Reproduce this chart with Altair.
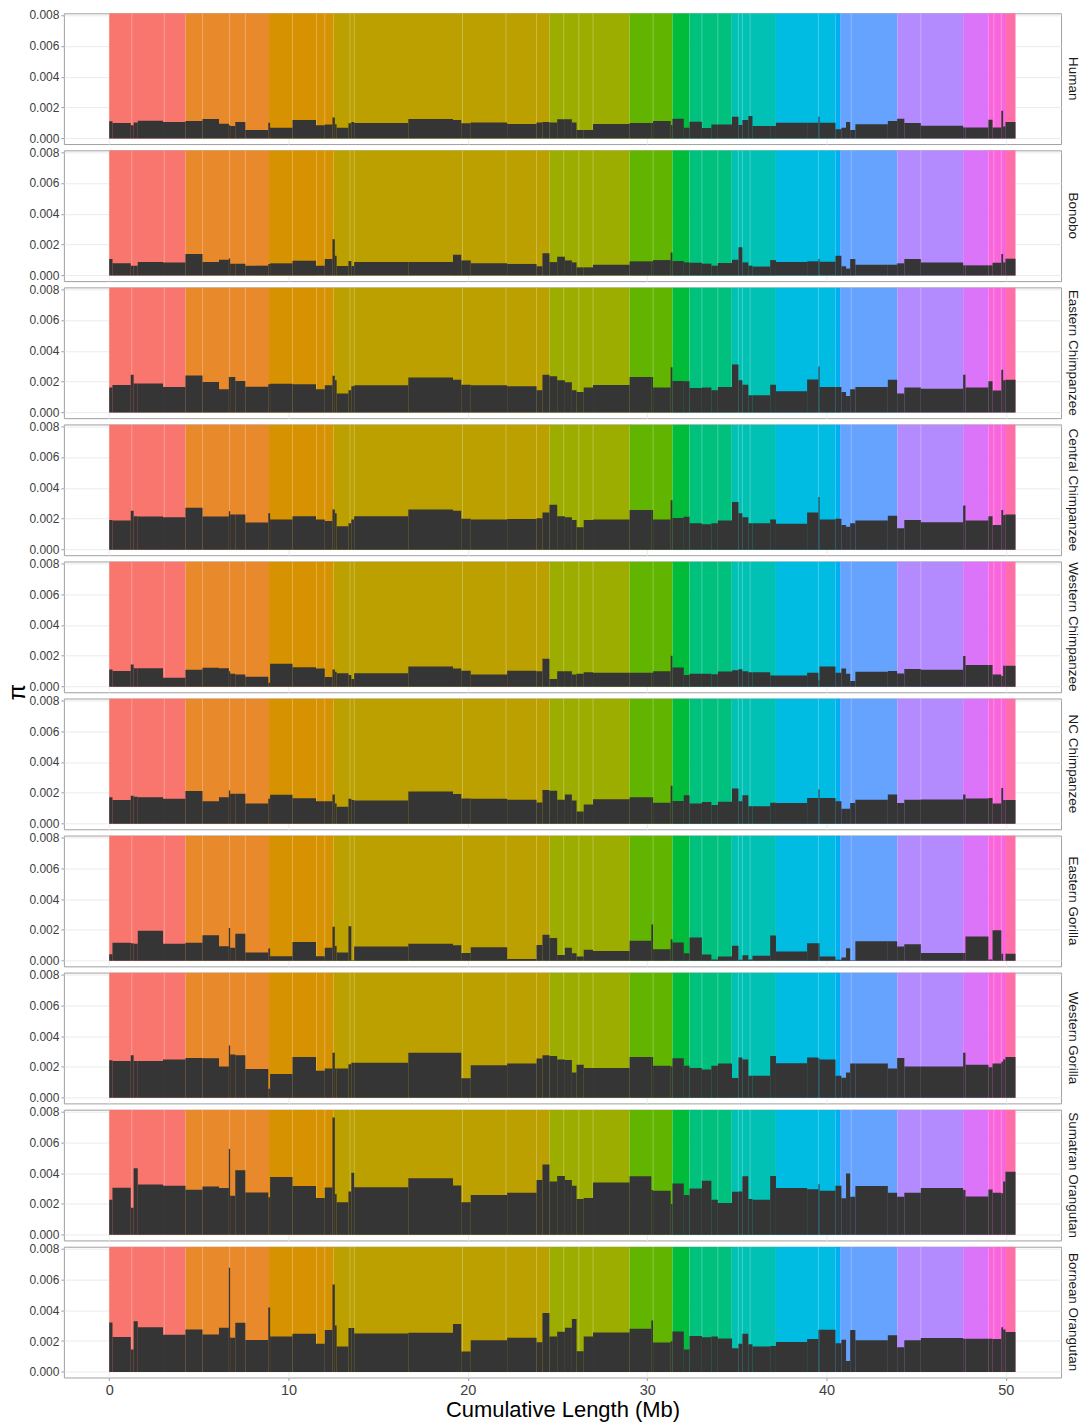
import altair as alt
import pandas as pd

# Panel order (top to bottom)
species = [
    "Human", "Bonobo", "Eastern Chimpanzee", "Central Chimpanzee",
    "Western Chimpanzee", "NC Chimpanzee", "Eastern Gorilla",
    "Western Gorilla", "Sumatran Orangutan", "Bornean Orangutan",
]

# Window boundaries along the cumulative coordinate (Mb)
edges = [
    0.0, 0.18, 1.20, 1.36, 1.59, 3.00, 4.25, 5.20, 6.12, 6.67,
    6.74, 7.03, 7.59, 8.87, 8.97, 10.22, 11.53, 12.02, 12.45, 12.58,
    12.68, 13.34, 13.50, 13.66, 16.68, 19.17, 19.63, 20.16, 22.19, 23.83,
    24.16, 24.55, 24.98, 25.41, 25.80, 26.06, 26.46, 26.98, 29.02, 30.23,
    30.33, 31.31, 31.41, 32.04, 32.36, 33.05, 33.58, 33.94, 34.73, 35.09,
    35.31, 35.64, 35.87, 36.86, 37.18, 38.92, 39.55, 39.61, 40.50, 40.83,
    41.09, 41.32, 41.61, 43.42, 43.94, 44.34, 45.26, 47.62, 47.75, 49.03,
    49.26, 49.75, 49.85, 49.98, 50.54,
]

# Nucleotide diversity per window, in units of 1e-3
pi_human = [
    1.11, 1.00, 0.85, 1.04, 1.15, 1.07, 1.13, 1.26, 0.96, 0.85,
    0.81, 1.07, 0.55, 1.02, 0.70, 1.19, 0.85, 0.90, 1.36, 0.92,
    0.70, 0.98, 1.07, 1.00, 1.26, 1.20, 0.98, 1.04, 0.94, 1.04,
    1.07, 1.04, 1.24, 1.24, 1.04, 0.55, 0.55, 0.94, 1.00, 1.00,
    1.13, 0.87, 1.28, 0.70, 1.09, 0.68, 0.90, 0.90, 1.41, 0.87,
    1.19, 1.45, 0.81, 0.81, 1.02, 1.02, 1.41, 1.02, 0.60, 0.70,
    1.07, 0.55, 0.92, 1.13, 1.28, 1.00, 0.83, 0.72, 0.72, 1.22,
    0.72, 1.79, 0.77, 1.07,
]
pi_bonobo = [
    1.07, 0.79, 0.64, 0.64, 0.87, 0.85, 1.39, 0.87, 1.02, 1.11,
    0.77, 0.77, 0.64, 0.75, 0.79, 0.96, 0.64, 1.07, 2.35, 1.28,
    0.62, 0.94, 0.62, 0.87, 0.87, 1.34, 0.98, 0.79, 0.75, 0.60,
    1.45, 0.87, 1.22, 0.98, 0.85, 0.53, 0.53, 0.70, 0.92, 0.92,
    1.00, 1.49, 0.94, 0.85, 0.83, 0.77, 0.64, 0.81, 1.02, 1.83,
    0.85, 0.64, 0.58, 1.00, 0.87, 0.92, 1.07, 0.90, 1.28, 0.60,
    0.45, 1.07, 0.70, 0.70, 0.79, 1.07, 0.85, 0.66, 0.66, 0.66,
    0.83, 1.39, 0.85, 1.09,
]
pi_e_chimp = [
    1.62, 1.79, 2.45, 1.88, 1.88, 1.66, 2.41, 1.98, 1.51, 2.30,
    2.30, 2.05, 1.68, 1.83, 1.86, 1.83, 1.51, 1.77, 2.39, 2.09,
    1.24, 1.45, 1.71, 1.77, 2.28, 2.13, 1.81, 1.77, 1.71, 1.45,
    2.45, 2.35, 2.09, 1.96, 1.45, 1.34, 1.62, 1.79, 2.30, 2.30,
    1.62, 2.94, 2.05, 2.03, 1.60, 1.62, 1.45, 1.66, 3.11, 2.09,
    1.81, 1.13, 1.13, 1.81, 1.39, 2.15, 2.98, 1.66, 1.66, 1.34,
    1.07, 1.51, 1.66, 2.13, 1.24, 1.62, 1.54, 2.45, 1.62, 2.03,
    1.43, 2.77, 2.09, 2.13,
]
pi_c_chimp = [
    1.92, 1.88, 2.52, 2.17, 2.15, 2.09, 2.71, 2.15, 2.15, 2.49,
    2.28, 2.28, 1.75, 2.35, 1.96, 2.17, 1.96, 1.86, 2.60, 2.35,
    1.51, 1.71, 1.96, 2.17, 2.60, 2.52, 2.00, 1.96, 1.98, 2.03,
    2.41, 2.90, 2.17, 2.09, 1.92, 1.45, 1.92, 1.96, 2.56, 2.56,
    1.96, 3.20, 2.05, 2.13, 1.71, 1.64, 1.71, 1.88, 3.09, 2.35,
    2.09, 1.71, 1.71, 1.96, 1.68, 2.41, 3.41, 1.96, 2.00, 1.60,
    1.49, 1.71, 1.88, 2.20, 1.39, 1.92, 1.77, 2.86, 1.88, 2.17,
    1.60, 2.56, 2.24, 2.28,
]
pi_w_chimp = [
    1.11, 1.02, 1.43, 1.19, 1.19, 0.58, 1.09, 1.22, 1.19, 1.00,
    0.83, 0.79, 0.64, 0.26, 1.49, 1.26, 1.17, 0.62, 1.11, 0.96,
    0.87, 0.75, 0.49, 0.87, 1.30, 1.17, 1.04, 0.79, 1.04, 1.00,
    1.81, 0.49, 1.00, 1.00, 0.79, 0.83, 0.94, 0.90, 0.90, 0.90,
    1.00, 2.00, 1.24, 0.75, 0.83, 0.83, 0.81, 0.98, 1.07, 1.13,
    1.00, 0.94, 0.94, 0.72, 0.72, 0.90, 0.41, 1.30, 0.90, 1.17,
    0.83, 0.36, 0.96, 1.02, 0.85, 1.15, 1.09, 1.98, 1.41, 1.41,
    0.79, 0.70, 1.36, 1.36,
]
pi_nc_chimp = [
    1.72, 1.53, 1.82, 1.74, 1.72, 1.61, 2.12, 1.46, 1.72, 2.16,
    1.95, 1.95, 1.31, 1.61, 1.87, 1.65, 1.46, 1.46, 1.89, 1.31,
    1.10, 1.61, 1.53, 1.50, 2.08, 1.93, 1.63, 1.61, 1.55, 1.38,
    2.18, 2.14, 1.55, 1.89, 1.50, 0.80, 1.25, 1.59, 1.72, 1.72,
    1.36, 2.46, 1.47, 1.84, 1.31, 1.40, 1.21, 1.43, 2.29, 1.46,
    1.84, 1.14, 1.14, 1.36, 1.34, 1.67, 2.21, 1.67, 1.46, 0.97,
    0.97, 1.34, 1.55, 1.89, 1.34, 1.55, 1.57, 1.89, 1.63, 1.67,
    1.31, 2.31, 1.53, 1.53,
]
pi_e_gorilla = [
    0.43, 1.17, 1.13, 1.11, 1.94, 1.11, 1.17, 1.66, 0.94, 2.13,
    0.85, 1.75, 0.53, 0.79, 0.30, 1.21, 0.30, 0.85, 2.20, 0.96,
    0.53, 2.24, 0.04, 0.92, 1.11, 1.00, 0.51, 0.87, 0.11, 1.02,
    1.68, 1.47, 0.38, 0.85, 0.49, 0.28, 0.72, 0.64, 1.30, 2.35,
    0.75, 1.39, 1.19, 0.49, 1.51, 0.41, 0.09, 0.28, 0.98, 0.06,
    0.36, 0.09, 0.32, 1.64, 0.60, 1.13, 1.13, 0.28, 0.06, 0.21,
    0.81, 0.04, 1.26, 1.26, 0.92, 1.07, 0.51, 0.51, 1.58, 0.09,
    1.98, 0.45, 0.02, 0.45,
]
pi_w_gorilla = [
    2.43, 2.39, 2.75, 2.39, 2.39, 2.49, 2.58, 2.56, 2.03, 3.39,
    2.81, 2.75, 1.86, 0.58, 1.54, 2.64, 1.75, 1.90, 2.92, 1.90,
    1.90, 2.17, 2.28, 2.28, 2.92, 2.92, 1.26, 2.11, 2.22, 2.54,
    2.75, 2.71, 2.49, 2.45, 1.64, 2.15, 1.94, 1.94, 2.64, 2.64,
    2.07, 2.03, 2.56, 2.07, 1.94, 1.83, 2.07, 2.22, 1.28, 2.62,
    2.49, 1.43, 1.43, 2.71, 2.24, 2.62, 2.54, 2.49, 1.43, 1.30,
    1.64, 2.22, 2.22, 1.90, 2.58, 2.03, 2.03, 2.92, 2.15, 1.98,
    2.22, 2.34, 2.49, 2.64,
]
pi_s_orang = [
    2.28, 3.05, 1.75, 4.31, 3.26, 3.18, 2.92, 3.13, 3.03, 5.56,
    2.54, 4.18, 2.75, 2.43, 3.75, 3.16, 2.39, 3.07, 7.61, 2.64,
    2.11, 2.81, 4.03, 3.09, 3.67, 3.20, 2.11, 2.58, 2.73, 3.56,
    4.56, 3.45, 3.82, 3.56, 3.18, 2.32, 2.39, 3.39, 3.80, 2.90,
    2.86, 2.00, 3.33, 2.58, 3.01, 3.50, 2.28, 2.07, 2.79, 2.81,
    3.80, 2.32, 2.28, 3.82, 3.03, 2.96, 3.28, 2.86, 3.18, 2.37,
    3.97, 2.47, 3.16, 2.73, 2.47, 2.73, 3.03, 2.90, 2.49, 2.94,
    2.73, 2.69, 3.45, 4.09,
]
pi_b_orang = [
    3.20, 2.26, 1.45, 3.28, 2.90, 2.41, 2.75, 2.43, 2.86, 6.74,
    2.22, 3.18, 2.07, 4.18, 2.30, 2.47, 1.83, 2.71, 5.67, 3.01,
    1.64, 2.84, 2.84, 2.49, 2.54, 3.11, 1.32, 2.05, 2.22, 1.92,
    3.82, 2.30, 2.60, 2.86, 3.43, 1.34, 2.30, 2.56, 2.79, 3.33,
    1.90, 1.98, 2.62, 1.45, 2.32, 2.24, 2.30, 2.17, 1.54, 1.83,
    2.47, 1.79, 1.64, 1.68, 1.94, 2.13, 2.73, 2.73, 1.86, 2.09,
    0.70, 2.71, 2.05, 2.37, 1.60, 2.05, 2.20, 2.15, 2.15, 2.15,
    2.13, 2.90, 2.75, 2.58,
]
pi_by_species = [
    pi_human, pi_bonobo, pi_e_chimp, pi_c_chimp, pi_w_chimp,
    pi_nc_chimp, pi_e_gorilla, pi_w_gorilla, pi_s_orang, pi_b_orang,
]

# Chromosome/scaffold blocks shading the background
block_start = [0.0, 4.25, 8.91, 12.51, 24.55, 29.02, 31.41, 32.36, 34.72,
               37.18, 40.50, 40.76, 43.95, 47.62, 49.03, 50.01]
block_end = [4.25, 8.91, 12.51, 24.55, 29.02, 31.41, 32.36, 34.72, 37.18,
             40.50, 40.76, 43.95, 47.62, 49.03, 50.01, 50.54]
block_color = ["#F8766D", "#E8892B", "#D69200", "#BBA000", "#9CAD00",
               "#61B400", "#00BC3A", "#00C07E", "#00C1B3", "#00BBE2",
               "#00AEF2", "#65A3FF", "#B48BFF", "#DC74FA", "#F966DB",
               "#FF6EA9"]

# Scaffold joins inside the blocks
seams = [1.26, 3.07, 5.20, 6.71, 7.59, 10.22, 11.56, 12.02, 13.43, 13.66,
         19.70, 22.13, 23.83, 25.34, 26.19, 26.98, 30.33, 33.05, 33.94,
         35.08, 35.31, 35.74, 39.55, 41.38, 45.26, 49.33, 49.75]

Y_MIN, Y_MAX = -0.00036, 0.00811
X_MIN, X_MAX = -2.53, 53.08
PANEL_W, PANEL_H = 999, 131
FONT = "Liberation Sans"
X_TICKS = [0, 10, 20, 30, 40, 50]
Y_TICKS = [0, 0.002, 0.004, 0.006, 0.008]

bg_df = pd.DataFrame({"x0": block_start, "x1": block_end, "y0": 0.0,
                      "y1": Y_MAX, "fill": block_color})
seam_df = pd.DataFrame({"x0": seams, "y0": 0.0, "y1": Y_MAX})
y_scale = alt.Scale(domain=[Y_MIN, Y_MAX], nice=False, zero=False)
x_scale = alt.Scale(domain=[X_MIN, X_MAX], nice=False, zero=False)


def panel(name, vals, last, middle):
    if last:
        x_axis = alt.Axis(values=X_TICKS, format="d", title="Cumulative Length (Mb)")
    else:
        x_axis = alt.Axis(values=X_TICKS, labels=False, ticks=False, title=None)
    x_enc = alt.X("x0:Q", scale=x_scale, axis=x_axis)
    y_enc = alt.Y("y0:Q", scale=y_scale,
                  axis=alt.Axis(values=Y_TICKS, format=".3f", title=None))

    pi_df = pd.DataFrame({"x0": edges[:-1], "x1": edges[1:], "y0": 0.0,
                          "y1": [v * 1e-3 for v in vals]})

    bg = alt.Chart(bg_df).mark_rect(clip=True).encode(
        x=x_enc, x2="x1:Q", y=y_enc, y2="y1:Q",
        fill=alt.Fill("fill:N", scale=None),
    )
    seam = alt.Chart(seam_df).mark_rule(
        color="#ffffff", opacity=0.28, strokeWidth=1, clip=True
    ).encode(x=x_enc, y=y_enc, y2="y1:Q")
    area = alt.Chart(pi_df).mark_rect(color="#353535", clip=True).encode(
        x=x_enc, x2="x1:Q", y=y_enc, y2="y1:Q"
    )
    layers = [bg, seam, area]
    if middle:
        # shared y-axis title, centred between the fifth and sixth panels
        ytitle = alt.Chart(pd.DataFrame({"t": ["π"]})).mark_text(
            font=FONT, fontSize=24, angle=270, color="#000000",
            align="center", baseline="middle",
        ).encode(text="t:N", x=alt.value(-46), y=alt.value(PANEL_H))
        layers.append(ytitle)

    return alt.layer(*layers).properties(
        width=PANEL_W, height=PANEL_H,
        title=alt.TitleParams(
            text=name, orient="right", anchor="middle", fontSize=13.5,
            font=FONT, fontWeight="normal", color="#1A1A1A", offset=5,
        ),
    )


panels = [
    panel(sp, vals, i == len(species) - 1, i == 4)
    for i, (sp, vals) in enumerate(zip(species, pi_by_species))
]

chart = (
    alt.vconcat(*panels, spacing=6.3, bounds="flush")
    .configure(background="#ffffff",
               padding={"left": 5, "top": 7, "right": 5, "bottom": 5})
    .configure_view(stroke="#A0A0A0", strokeWidth=1)
    .configure_axis(
        grid=True, gridColor="#EBEBEB", gridWidth=1, domain=False,
        tickColor="#A0A0A0", tickSize=3, labelFont=FONT, titleFont=FONT,
        titleFontWeight="normal", titleColor="#000000",
    )
    .configure_axisY(labelFontSize=12, labelColor="#404040", labelPadding=2)
    .configure_axisX(labelFontSize=14.5, labelColor="#404040", labelPadding=3,
                     titleFontSize=22, titlePadding=3)
)

chart.save("out.html", embed_options={"renderer": "svg", "actions": False})
